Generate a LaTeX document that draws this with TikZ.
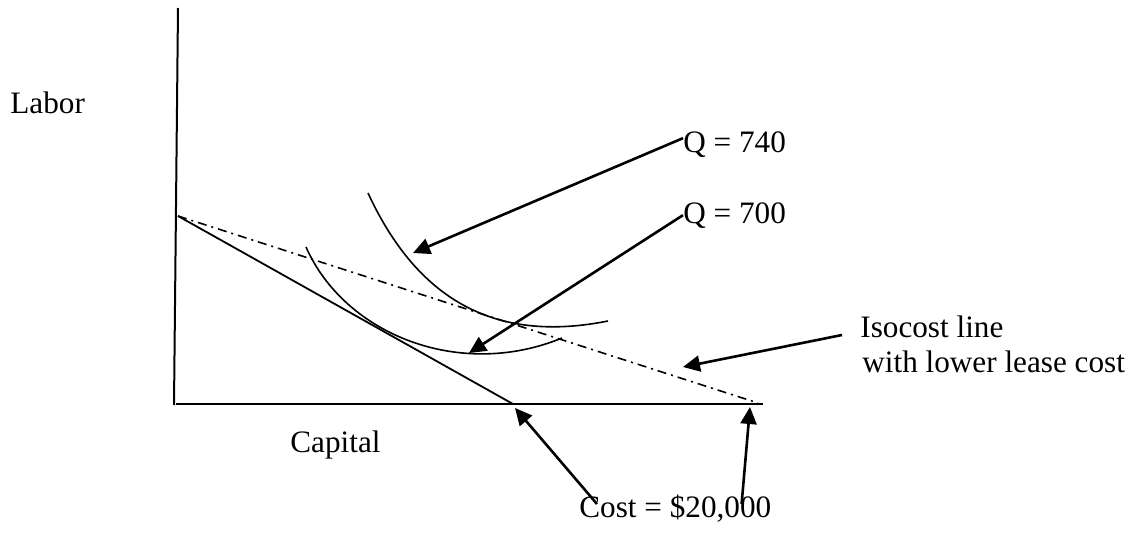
\documentclass[tikz,border=0pt]{standalone}
\usepackage{fontspec}
\setmainfont{Liberation Serif}
\usetikzlibrary{arrows.meta}

\begin{document}
\begin{tikzpicture}[x=0.5pt, y=-0.5pt, >={Triangle[length=8.5pt,width=8pt]},
  lbl/.style={inner sep=0pt, anchor=base west, font=\fontsize{15.6}{17.5}\selectfont},
  axis/.style={line width=1pt},
  budget/.style={line width=0.9pt},
  lease/.style={line width=0.8pt, dash pattern=on 4.5pt off 2.5pt on 1pt off 2.5pt},
  isoq/.style={line width=0.8pt},
  arr/.style={->, line width=1.3pt}]
  \useasboundingbox (0,0) rectangle (1137,536);
  % axes
  \coordinate (ytop) at (178,8);
  \coordinate (ybot) at (174,405);
  \coordinate (xbeg) at (176,404);
  \coordinate (xend) at (763,404);
  \draw[axis] (ytop) -- (ybot);
  \draw[axis] (xbeg) -- (xend);
  % isocost lines
  \coordinate (lab) at (178,216);
  \coordinate (cap1) at (513,404);
  \coordinate (cap2) at (758,403);
  \draw[budget] (lab) -- (cap1);
  \draw[lease] (lab) -- (cap2);
  % isoquants
  \draw[isoq] (306,247) .. controls (345,335) and (460,380) .. (562,338);
  \draw[isoq] (368,193) .. controls (423,312) and (508,341) .. (608,321);
  % labels
  \node[lbl] (labor) at (10,113) {Labor};
  \node[lbl] (capital) at (290,452) {Capital};
  \node[lbl] (q740) at (683,152) {Q = 740};
  \node[lbl] (q700) at (683,223) {Q = 700};
  \node[lbl] (iso) at (860,337) {Isocost line};
  \node[lbl] (isob) at (862,372) {with lower lease cost};
  \node[lbl] (cost) at (579,517) {Cost = \$20,000};
  % arrow tips
  \coordinate (t740) at (413,253);
  \coordinate (t700) at (469,353);
  \coordinate (tiso) at (683,367);
  \coordinate (tcap1) at (515,408);
  \coordinate (tcap2) at (750,407);
  \draw[arr] ([yshift=3pt]q740.west) -- (t740);
  \draw[arr] (q700.west) -- (t700);
  \draw[arr] ([xshift=-9pt,yshift=1pt]iso.base west) -- (tiso);
  \draw[arr] ([xshift=9pt,yshift=-5pt]cost.north west) -- (tcap1);
  \draw[arr] ([xshift=-15pt,yshift=-5pt]cost.north east) -- (tcap2);
\end{tikzpicture}
\end{document}
